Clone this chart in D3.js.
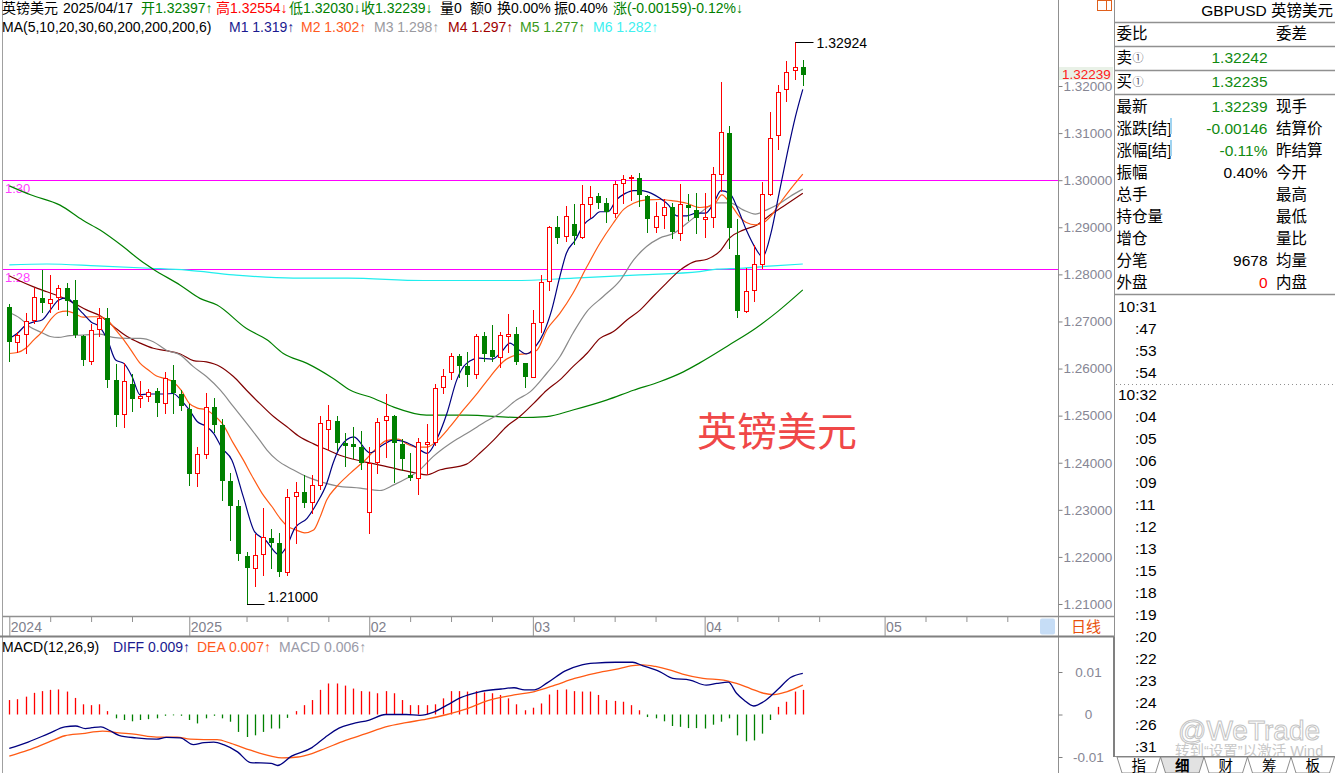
<!DOCTYPE html>
<html><head><meta charset="utf-8">
<script src="https://cdn.jsdelivr.net/npm/d3@7/dist/d3.min.js"></script>
<style>
html,body{margin:0;padding:0;background:#fff;overflow:hidden;}
svg{display:block;font-family:"Liberation Sans",Arial,"Noto Sans CJK SC",sans-serif;}
</style></head><body>
<svg id="c" width="1335" height="773"></svg>
<script>
// ---------------- DATA ----------------
const opens  = [1.2731,1.2656,1.2673,1.2704,1.2750,1.2739,1.2751,1.2771,1.2746,1.2670,1.2617,1.2683,1.2707,1.2576,1.2503,1.2567,1.2537,1.2542,1.2552,1.2527,1.2575,1.2546,
1.2515,1.2378,1.2418,1.2518,1.2480,1.2362,1.2308,1.2202,1.2176,1.2206,1.2240,1.2229,1.2167,1.2329,1.2337,1.2317,1.2353,1.2471,1.2489,1.2441,1.2439,1.2434,
1.2295,1.2402,1.2491,1.2500,1.2440,1.2374,1.2367,1.2440,1.2445,1.2560,1.2592,1.2627,1.2605,1.2588,1.2670,1.2639,1.2625,1.2670,1.2673,1.2611,
1.2583,1.2698,1.2786,1.2900,1.2881,1.2908,1.2879,1.2949,1.2966,1.2952,1.2931,1.2995,1.3004,1.3004,1.2966,1.2900,1.2926,1.2942,1.2887,1.2947,1.2937,
1.2918,1.2921,1.3013,1.3100,1.2841,1.2723,1.2767,1.2821,1.2970,1.3096,1.3193,1.3234,1.32397];
const highs  = [1.2737,1.2678,1.2719,1.2772,1.2809,1.2798,1.2777,1.2781,1.2788,1.2672,1.2695,1.2729,1.2729,1.2610,1.2612,1.2588,1.2573,1.2556,1.2558,1.2593,1.2608,1.2554,
1.2525,1.2434,1.2549,1.2538,1.2493,1.2378,1.2321,1.2211,1.2249,1.2303,1.2259,1.2250,1.2344,1.2360,1.2374,1.2374,1.2500,1.2523,1.2499,1.2463,1.2475,1.2468,
1.2434,1.2494,1.2547,1.2501,1.2450,1.2420,1.2453,1.2482,1.2567,1.2599,1.2634,1.2630,1.2636,1.2673,1.2678,1.2692,1.2677,1.2716,1.2689,1.2612,
1.2724,1.2799,1.2902,1.2924,1.2945,1.2949,1.2990,1.2988,1.2972,1.2962,1.2998,1.3011,1.3011,1.3016,1.2968,1.2954,1.2959,1.2952,1.2992,1.2971,1.2972,
1.2972,1.3027,1.3209,1.3115,1.2917,1.2813,1.2862,1.2997,1.3145,1.3202,1.3253,1.32924,1.32554];
const lows   = [1.2617,1.2636,1.2632,1.2697,1.2721,1.2721,1.2726,1.2714,1.2668,1.2608,1.2610,1.2669,1.2561,1.2478,1.2475,1.2510,1.2519,1.2532,1.2500,1.2506,1.2505,1.2512,
1.2353,1.2350,1.2410,1.2465,1.2321,1.2236,1.2193,1.2100,1.2138,1.2162,1.2176,1.2159,1.2162,1.2229,1.2307,1.2293,1.2345,1.2427,1.2427,1.2392,1.2410,1.2386,
1.2250,1.2379,1.2413,1.2360,1.2385,1.2363,1.2333,1.2376,1.2438,1.2549,1.2578,1.2583,1.2563,1.2579,1.2615,1.2615,1.2604,1.2636,1.2610,1.2560,
1.2581,1.2678,1.2767,1.2867,1.2871,1.2865,1.2877,1.2922,1.2940,1.2912,1.2922,1.2951,1.2957,1.2945,1.2891,1.2891,1.2898,1.2877,1.2873,1.2915,1.2887,
1.2880,1.2901,1.2976,1.2855,1.2709,1.2721,1.2744,1.2813,1.2969,1.3066,1.3168,1.3214,1.32030];
const closes = [1.2656,1.2671,1.2702,1.2751,1.2740,1.2747,1.2770,1.2744,1.2671,1.2618,1.2681,1.2708,1.2576,1.2501,1.2573,1.2536,1.2542,1.2550,1.2527,1.2579,1.2549,1.2520,
1.2377,1.2418,1.2518,1.2480,1.2362,1.2308,1.2206,1.2176,1.2203,1.2242,1.2230,1.2169,1.2327,1.2337,1.2315,1.2353,1.2484,1.2491,1.2441,1.2436,1.2434,1.2400,
1.2400,1.2486,1.2500,1.2441,1.2407,1.2367,1.2443,1.2443,1.2558,1.2585,1.2627,1.2606,1.2586,1.2670,1.2631,1.2624,1.2671,1.2673,1.2613,1.2581,
1.2696,1.2783,1.2900,1.2878,1.2925,1.2881,1.2949,1.2964,1.2952,1.2933,1.2992,1.3002,1.3006,1.2969,1.2918,1.2924,1.2944,1.2889,1.2949,1.2940,1.2919,
1.2921,1.3013,1.3102,1.2899,1.2723,1.2765,1.2823,1.2970,1.3089,1.3188,1.3230,1.3240,1.32239];

// moving averages: [candle index, price]
const ma5 = [[0,1.2664],[1,1.2675],[2,1.2692],[3,1.2699],[4,1.2703],[5,1.2724],[6,1.2745],[7,1.2750],[8,1.2735],[9,1.2717],[10,1.2699],[11,1.2689],[12,1.2661],[13,1.2618],[14,1.2611],[15,1.2583],[16,1.2544],[17,1.2546],[18,1.2546],[19,1.2546],[20,1.2547],[21,1.2533],[22,1.2512],[23,1.2487],[24,1.2478],[25,1.2462],[26,1.2431],[27.2,1.2406],[28.6,1.2328],[30,1.2253],[31.3,1.2236],[33,1.2204],[33.9,1.2222],[34.9,1.2261],[36.4,1.2282],[37.6,1.2314],[38.8,1.2356],[39.6,1.2400],[40.4,1.2432],[42.1,1.2455],[44.1,1.2421],[45.7,1.2438],[46.9,1.2448],[48.2,1.2445],[49.6,1.2434],[51.1,1.2420],[52.2,1.2448],[53.5,1.2505],[54.7,1.2576],[55.9,1.2611],[57.5,1.2622],[59,1.2620],[60.2,1.2636],[61.2,1.2654],[62.2,1.2641],[63.2,1.2631],[64.3,1.2646],[65.3,1.2675],[66.3,1.2724],[67.3,1.2795],[68.1,1.2845],[69.2,1.2873],[70.2,1.2905],[71.4,1.2922],[72.2,1.2933],[73.2,1.2933],[74.2,1.2958],[75.3,1.2972],[76.3,1.2978],[77.3,1.2978],[78.5,1.2972],[79.5,1.2962],[80.6,1.2947],[81.6,1.2924],[82.8,1.2924],[84,1.2930],[85.1,1.2930],[86.1,1.2951],[87,1.2978],[88.1,1.2971],[89.1,1.2937],[90.1,1.2894],[91.1,1.2859],[92.1,1.2837],[93.1,1.2887],[94.1,1.2972],[95.1,1.3057],[96.1,1.3135],[97,1.3193]];
const ma10 = [[0,1.2632],[1,1.2634],[2,1.2643],[3,1.2661],[4,1.2678],[5,1.2703],[6,1.2719],[7,1.2722],[8,1.2717],[9,1.2709],[10,1.2710],[11,1.2710],[12,1.2703],[13,1.2682],[14,1.2661],[15,1.2636],[16,1.2611],[17,1.2597],[18,1.2584],[19,1.2579],[20,1.2572],[21,1.2554],[22,1.2526],[23,1.2516],[24,1.2513],[25,1.2501],[26,1.2484],[27.4,1.2441],[28.6,1.2406],[29.6,1.2374],[30.9,1.2335],[32.1,1.2307],[33.1,1.2282],[34.1,1.2264],[35.1,1.2257],[36.1,1.2251],[37.2,1.2257],[38,1.2285],[38.8,1.2321],[40,1.2349],[41.7,1.2378],[43.7,1.2409],[44.9,1.2431],[46.1,1.2447],[47.6,1.2450],[48.6,1.2440],[49.8,1.2433],[51,1.2433],[52.2,1.2445],[53.9,1.2477],[55.5,1.2512],[57.1,1.2545],[58.8,1.2583],[60.4,1.2615],[62,1.2629],[63.3,1.2632],[64.5,1.2639],[65.7,1.2682],[67.3,1.2717],[68.9,1.2760],[70.6,1.2816],[72.2,1.2866],[73.8,1.2908],[75.1,1.2938],[76.3,1.2951],[77.9,1.2958],[79.5,1.2959],[81.2,1.2956],[82.8,1.2951],[84.4,1.2942],[86.1,1.2947],[87.1,1.2969],[88.1,1.2951],[89.1,1.2926],[90.1,1.2910],[91.2,1.2905],[92.2,1.2910],[93.2,1.2926],[94.2,1.2951],[95.4,1.2979],[97,1.3013]];
const ma20 = [[0,1.2719],[1.3,1.2707],[2.5,1.2689],[4,1.2676],[5,1.2668],[6,1.2666],[7.4,1.2670],[9,1.2671],[11.1,1.2673],[12.7,1.2666],[14.4,1.2664],[16,1.2664],[17.6,1.2657],[19.2,1.2639],[20.9,1.2629],[22.5,1.2604],[24.1,1.2583],[25.8,1.2554],[27.4,1.2519],[29,1.2484],[30.6,1.2448],[31.5,1.2427],[32.7,1.2406],[34.7,1.2385],[36.4,1.2370],[38,1.2360],[40,1.2351],[42.9,1.2346],[45.3,1.2341],[47,1.2353],[48.6,1.2367],[50.2,1.2385],[51.8,1.2413],[53.9,1.2441],[55.9,1.2462],[57.9,1.2484],[60,1.2505],[62,1.2533],[63.7,1.2551],[65.7,1.2590],[67.3,1.2625],[68.9,1.2675],[70.6,1.2721],[72.6,1.2753],[74.7,1.2788],[76.3,1.2830],[77.9,1.2859],[79.5,1.2877],[81.2,1.2887],[82.8,1.2908],[84.4,1.2930],[86.5,1.2952],[88.1,1.2952],[89.7,1.2937],[91.2,1.2928],[92.6,1.2937],[94.2,1.2951],[95.4,1.2965],[97,1.2981]];
const ma30 = [[0,1.2797],[1.3,1.2786],[2.9,1.2774],[4.6,1.2763],[6.2,1.2753],[7.8,1.2740],[9.5,1.2724],[11.1,1.2712],[12.7,1.2690],[14.4,1.2668],[16,1.2654],[17.6,1.2643],[19.2,1.2638],[20.9,1.2631],[22.5,1.2617],[24.1,1.2614],[25.8,1.2604],[27.4,1.2583],[29,1.2554],[30.6,1.2526],[32.3,1.2498],[33.9,1.2477],[35.5,1.2455],[37.2,1.2440],[38.8,1.2428],[40.4,1.2416],[42.9,1.2404],[45.3,1.2395],[47.8,1.2385],[49.8,1.2378],[51,1.2374],[52.7,1.2385],[55.9,1.2397],[57.5,1.2420],[59.2,1.2448],[60.8,1.2477],[62.4,1.2498],[64.1,1.2526],[65.7,1.2554],[67.3,1.2576],[68.9,1.2604],[70.6,1.2632],[72.2,1.2664],[73.8,1.2678],[75.5,1.2703],[77.1,1.2724],[78.7,1.2753],[80.3,1.2781],[82,1.2809],[83.6,1.2826],[85.3,1.2832],[86.9,1.2850],[88.1,1.2878],[89.7,1.2894],[91.4,1.2905],[93,1.2926],[94.6,1.2944],[97,1.2972]];
const ma60 = [[0,1.2988],[2.6,1.2969],[6.2,1.2947],[9,1.2915],[11.1,1.2894],[13.9,1.2859],[16,1.2830],[17.6,1.2811],[20.9,1.2777],[23.3,1.2749],[25.4,1.2735],[29,1.2685],[31.5,1.2661],[33.5,1.2632],[36.4,1.2611],[39.6,1.2579],[41.7,1.2554],[44.5,1.2537],[47,1.2518],[51,1.2501],[55.9,1.2501],[62.4,1.2496],[65.7,1.2498],[68.9,1.2512],[73,1.2533],[76.3,1.2554],[79.5,1.2572],[82.4,1.2593],[84.4,1.2612],[88,1.2650],[91.2,1.2685],[94,1.2722],[97,1.2767]];
const ma200 = [[0,1.2820],[4.6,1.2822],[10.7,1.2818],[17.2,1.2813],[21.7,1.2809],[27.4,1.2799],[34.7,1.2792],[41.4,1.2792],[50.6,1.2787],[61.6,1.2787],[69,1.2792],[77.1,1.2799],[84.4,1.2806],[86.5,1.2811],[89.3,1.2813],[93.4,1.2818],[97,1.2822]];

// MACD (units of 0.001)
const macdHist = [3.4,3.6,4.2,5.1,5.5,5.8,5.9,5.4,3.9,2.4,2.2,2.4,0.8,-0.9,-1.3,-1.6,-1.3,-1.1,-0.9,-0.3,-0.2,-0.3,
-1.3,-2.1,-0.9,-0.3,-0.9,-1.7,-4.1,-5.3,-4.9,-4.1,-3.3,-3.3,-0.8,0.8,2.2,3.4,5.8,7.3,7.3,6.8,6.1,5.5,
5.4,5.0,5.5,5.0,3.4,2.2,2.2,2.2,2.4,3.8,5.5,5.5,5.4,5.5,5.2,5.0,4.6,3.8,2.4,1.0,
1.6,2.6,4.7,5.8,5.9,5.5,5.4,5.4,4.6,3.4,3.2,3.0,2.2,1.0,-0.6,-0.9,-1.6,-2.7,-2.9,-3.2,-3.2,
-3.3,-2.4,-1.7,-0.9,-4.9,-6.3,-6.1,-4.5,-1.3,1.8,3.0,5.4,5.8];
const diffPts = [[0,-8.0],[2.3,-6.5],[4.8,-4.5],[6.8,-2.9],[8.1,-2.7],[9.3,-3.3],[10.1,-3.1],[11.2,-2.9],[12.2,-3.7],[13.4,-4.9],[15.5,-5.5],[18,-5.8],[19.2,-5.4],[20.9,-5.5],[22.5,-7.1],[23.8,-6.6],[25,-6.5],[26.2,-7.1],[27.9,-8.8],[29.5,-11.3],[32,-11.5],[32.8,-12.0],[34.5,-9.8],[37,-7.8],[38.6,-5.4],[40.3,-3.2],[41.9,-2.2],[44,-1.3],[46,0],[48.5,0],[50.2,-0.2],[51.8,0.5],[53.5,2.2],[55.1,3.9],[57.6,5.4],[60.1,6.0],[61.7,6.3],[63,5.8],[64.2,5.8],[65.8,7.5],[67.9,10.2],[70,11.7],[71.6,12.1],[74.1,12.3],[76.2,12.3],[77.4,11.5],[79.5,10.1],[81.1,8.5],[83.2,8.1],[85.2,6.9],[86.5,7.3],[87.9,7.6],[88.9,5.0],[89.8,3.4],[91,2.0],[92.2,3.0],[93.9,5.8],[95.5,8.7],[97,9.7]];
const deaPts = [[0,-9.8],[2.3,-8.4],[4.8,-6.5],[6.8,-5.0],[8.9,-4.5],[11.4,-3.9],[13.4,-4.3],[15.5,-4.7],[18,-5.3],[20.5,-5.3],[22.1,-5.8],[23.8,-5.9],[25.4,-5.9],[27.1,-6.8],[29.5,-8.4],[32,-9.8],[33.3,-10.2],[35.3,-10.0],[37,-9.2],[38.6,-8.0],[41.1,-6.1],[43.6,-4.5],[46,-2.9],[48.5,-1.9],[51,-1.1],[53.5,0],[56,1.4],[58.4,3.2],[61.7,4.6],[64.2,5.4],[66.7,6.9],[69.1,8.5],[71.6,9.7],[74.1,10.6],[76.2,11.5],[77.4,11.7],[79,11.3],[80.7,10.5],[82.3,9.5],[84.8,8.5],[87.3,8.1],[88.9,7.3],[90.6,6.1],[92.2,5.0],[93.5,4.7],[95.1,5.4],[97,6.9]];

// axis / labels
const priceTicks = [1.21,1.22,1.23,1.24,1.25,1.26,1.27,1.28,1.29,1.30,1.31,1.32];
const macdTicks = [0.01,0,-0.01];
const macdTickLabels = ["0.01","0","-0.01"];
const majorIdx = [0,22,44,64,85,107];
const majorLabels = ["2024","2025","02","03","04","05"];
const minorIdx = [5,10,15,29,34,39,49,54,59,69,74,79,89,94,99,112,117,122];
const levelVals = [1.30,1.2811];
const levelLabels = ["1:30","1:28"];
const lastPrice = 1.32239;

const infoLeft  = ["最新","涨跌[结]","涨幅[结]","振幅","总手","持仓量","增仓","分笔","外盘"];
const infoVals  = ["1.32239","-0.00146","-0.11%","0.40%","","","","9678","0"];
const infoRight = ["现手","结算价","昨结算","今开","最高","最低","量比","均量","内盘"];
const askBid = [["卖","1.32242"],["买","1.32235"]];
const tickTimes = ["10:31",":47",":53",":54","10:32",":04",":05",":06",":09",":11",":12",":13",":15",":18",":19",":20",":22",":23",":24",":26",":31"];
const tabs = ["指","细","财","筹","板"];

// ---------------- DRAW ----------------
const svg = d3.select("#c");
const RED="#ff0000", GREEN="#008000";
const x = d3.scaleLinear().domain([0,97]).range([9.3,802.8]);
const y = d3.scaleLinear().domain([1.21,1.32]).range([604,86]);
const ym = d3.scaleLinear().domain([-0.01,0.01]).range([757,672]);
const cx = i => Math.round(x(i))+0.5;
const ry = v => Math.round(y(v));

function hline(x1,x2,yy,c,w){svg.append("line").attr("x1",x1).attr("x2",x2).attr("y1",yy).attr("y2",yy).attr("stroke",c).attr("stroke-width",w||1);}
function vline(xx,y1,y2,c,w){svg.append("line").attr("x1",xx).attr("x2",xx).attr("y1",y1).attr("y2",y2).attr("stroke",c).attr("stroke-width",w||1);}
function txt(t,xx,yy,opt){opt=opt||{};const e=svg.append("text").attr("x",xx).attr("y",yy).text(t)
  .attr("fill",opt.fill||"#000").style("font-size",(opt.size||14)+"px");
  if(opt.anchor)e.attr("text-anchor",opt.anchor); if(opt.weight)e.style("font-weight",opt.weight);
  if(opt.family)e.style("font-family",opt.family); return e;}

// frame
vline(2.5,0,773,"#a0a0a0");
vline(1058.5,0,773,"#909090");
vline(1114.5,0,757,"#909090");
vline(1114,637,757,"#808080",2);
hline(2.5,1058.5,616.5,"#909090",1.5);
hline(0,1114,636.5,"#808080",2);
hline(1058.5,1114,616.5,"#909090",1.5);

// level lines (magenta)
levelVals.forEach((v,k)=>{
  hline(3,1058,Math.round(y(v))+0.5,"#ff00ff",1);
  txt(levelLabels[k],5,Math.round(y(v))+13,{fill:"#ff40ff",size:13});
});

// watermark
txt("英镑美元",697,446,{fill:"#f04848",size:40,family:"'Noto Sans CJK SC',sans-serif"});

// moving averages
const line = d3.line().x(d=>x(d[0])).y(d=>y(d[1])).curve(d3.curveMonotoneX);
const mas = [[ma200,"#20eeee"],[ma60,"#008000"],[ma30,"#800000"],[ma20,"#8a8a8a"],[ma10,"#ff5a14"],[ma5,"#000080"]];
mas.forEach(([d,c])=>svg.append("path").attr("d",line(d)).attr("fill","none").attr("stroke",c).attr("stroke-width",1.2));

// candles
const gC = svg.append("g");
closes.forEach((c,i)=>{
  const o=opens[i],h=highs[i],l=lows[i];
  const up = c>=o, col = up?RED:GREEN, xc=cx(i);
  gC.append("line").attr("x1",xc).attr("x2",xc).attr("y1",ry(h)).attr("y2",ry(l)+1).attr("stroke",col);
  const top=ry(Math.max(o,c)), bot=ry(Math.min(o,c));
  if(up){
    gC.append("rect").attr("x",xc-2.5+0.0).attr("y",top+0.5).attr("width",4).attr("height",Math.max(bot-top,0.01))
      .attr("fill","#fff").attr("stroke",col).attr("stroke-width",1).attr("transform","translate(0.5,0)");
  } else {
    gC.append("rect").attr("x",xc-2.5).attr("y",top).attr("width",5).attr("height",Math.max(bot-top,1)).attr("fill",col);
  }
});

// high / low markers
const hiI = d3.maxIndex(highs), loI = d3.minIndex(lows);
hline(cx(hiI),cx(hiI)+18,ry(highs[hiI])+0.5,"#000");
txt(highs[hiI].toFixed(5),cx(hiI)+21,ry(highs[hiI])+5.5,{size:14});
hline(cx(loI)-0.5,cx(loI)+17,ry(lows[loI])+0.5,"#000");
txt(lows[loI].toFixed(5),cx(loI)+20,ry(lows[loI])-2,{size:14});

// price axis
const ga = svg.append("g").attr("transform","translate(1058.5,0)")
  .call(d3.axisRight(y).tickValues(priceTicks).tickSize(4).tickFormat(d3.format(".5f")));
ga.select(".domain").remove();
ga.selectAll("line").attr("stroke","#808080");
ga.selectAll("text").attr("x",5).attr("fill","#868694").style("font-size","13.5px")
  .style("font-family","'Liberation Sans',Arial,sans-serif");
// current price tag
svg.append("rect").attr("x",1059).attr("y",Math.round(y(lastPrice))-8).attr("width",54).attr("height",13).attr("fill","#e9f1e7");
txt(lastPrice.toFixed(5),1062,Math.round(y(lastPrice))+4,{fill:"#ff2020",size:13.5});

// x axis
const gx = svg.append("g").attr("transform","translate(0,617)")
  .call(d3.axisBottom(x).tickValues(majorIdx).tickSize(19).tickFormat((d,i)=>majorLabels[i]));
gx.select(".domain").remove();
gx.selectAll("line").attr("stroke","#909090");
gx.selectAll("text").attr("x",1).attr("y",10).attr("dy","0.35em").attr("text-anchor","start")
  .attr("fill","#80808c").style("font-size","14px").style("font-family","'Liberation Sans',Arial,sans-serif");
const gx2 = svg.append("g").attr("transform","translate(0,617)")
  .call(d3.axisBottom(x).tickValues(minorIdx).tickSize(5).tickFormat(""));
gx2.select(".domain").remove();
gx2.selectAll("line").attr("stroke","#909090");
svg.append("rect").attr("x",1040).attr("y",618.5).attr("width",15).attr("height",16).attr("rx",2).attr("fill","#c6ddf6");
txt("日线",1071,632,{fill:"#e8500c",size:15});

// MACD
const gm = svg.append("g");
macdHist.forEach((h,i)=>{
  const v=h/1000;
  gm.append("line").attr("x1",cx(i)).attr("x2",cx(i)).attr("y1",ym(0)).attr("y2",ym(v))
    .attr("stroke",v>=0?RED:GREEN).attr("stroke-width",1.3);
});
const mline = d3.line().x(d=>x(d[0])).y(d=>ym(d[1]/1000)).curve(d3.curveMonotoneX);
svg.append("path").attr("d",mline(deaPts)).attr("fill","none").attr("stroke","#ff5a14").attr("stroke-width",1.3);
svg.append("path").attr("d",mline(diffPts)).attr("fill","none").attr("stroke","#000080").attr("stroke-width",1.3);
const gma = svg.append("g").attr("transform","translate(1058.5,0)")
  .call(d3.axisRight(ym).tickValues(macdTicks).tickSize(4).tickFormat((d,i)=>macdTickLabels[i]));
gma.select(".domain").remove();
gma.selectAll("line").attr("stroke","#808080");
gma.selectAll("text").attr("x",30).attr("text-anchor","middle").attr("fill","#868694").style("font-size","13.5px")
  .style("font-family","'Liberation Sans',Arial,sans-serif");

// headers
function spans(items,yy,size){
  items.forEach(([t,c,xx])=>txt(t,xx,yy,{fill:c,size:size}));
}
spans([["英镑美元","#000",2],["2025/04/17","#000",63],["开1.32397↑","#008000",141],["高1.32554↓","#ff0000",216],
  ["低1.32030↓","#008000",289],["收1.32239↓","#008000",361],["量0","#000",440],["额0","#000",470],["换0.00%","#000",497],
  ["振0.40%","#000",554],["涨(-0.00159)-0.12%↓","#008000",613]],13,14);
spans([["MA(5,10,20,30,60,200,200,200,6)","#000",2],["M1 1.319↑","#1a1a90",229],["M2 1.302↑","#ff5a1e",301],
  ["M3 1.298↑","#9a9aa0",374],["M4 1.297↑","#a00000",448],["M5 1.277↑","#3a9a20",520],["M6 1.282↑","#40f0f0",593]],32,14);
spans([["MACD(12,26,9)","#000",2],["DIFF 0.009↑","#1a1a90",113],["DEA 0.007↑","#ff5a1e",197],["MACD 0.006↑","#9a9aa8",279]],652,14);

// top-right icon
svg.append("rect").attr("x",1097.5).attr("y",0.5).attr("width",14).attr("height",10).attr("fill","none").attr("stroke","#e0601c");
vline(1106.5,0,11,"#e0601c");

// right info panel
const PX=1116.5, VX=1267.5, RX=1276;
txt("GBPUSD 英镑美元",1333,15.5,{anchor:"end",size:15.5});
[22.5,46.5,70.5,94.5,294.5].forEach(yy=>hline(1115,1335,yy,"#909090",1.5));
txt("委比",PX,39,{size:15.5}); txt("委差",RX,39,{size:15.5});
askBid.forEach(([l,v],k)=>{
  const yy=63+k*24;
  txt(l,PX,yy,{size:15.5});
  txt("①",PX+16,yy-1,{size:11,fill:"#505060"});
  txt(v,VX,yy,{anchor:"end",size:15.5,fill:"#108a10"});
});
const valColors=["#108a10","#108a10","#108a10","#000","#000","#000","#000","#000","#ff0000"];
infoLeft.forEach((l,k)=>{
  const yy=111.5+k*22;
  txt(l,PX,yy,{size:15.5});
  if(infoVals[k]) txt(infoVals[k],VX,yy,{anchor:"end",size:15.5,fill:valColors[k]});
  txt(infoRight[k],RX,yy,{size:15.5});
});
svg.append("rect").attr("x",1170).attr("y",118).attr("width",2).attr("height",16).attr("fill","#9fd3f0");
svg.append("rect").attr("x",1170).attr("y",140).attr("width",2).attr("height",16).attr("fill","#9fd3f0");

tickTimes.forEach((t,k)=>{
  const yy=311.5+k*22;
  txt(t,t.length>3?1118:1135,yy,{size:15.5});
});
svg.append("line").attr("x1",1116).attr("x2",1335).attr("y1",384.5).attr("y2",384.5)
  .attr("stroke","#909090").attr("stroke-dasharray","1,3");

// watermarks
txt("@WeTrade",1178,740,{size:28,fill:"none"}).attr("stroke","#c4c4c4").attr("stroke-width",1);
txt("转到“设置”以激活 Wind",1175,756,{size:14.5,fill:"#c8c8c8"});

// tabs
hline(1115,1335,756.5,"#909090",1);
const tabW=43.5;
tabs.forEach((t,k)=>{
  const a=1117+k*tabW, b=a+tabW;
  const pts=[[a,757],[a+5,773],[b-5,773],[b,757]];
  svg.append("polygon").attr("points",pts.map(p=>p.join(",")).join(" "))
    .attr("fill",k===1?"#e2e2e2":"#fff").attr("stroke","#707070").attr("stroke-width",0.8);
  txt(t,(a+b)/2,771,{anchor:"middle",size:14.5,weight:k===1?"bold":"normal"});
});
</script>
</body></html>
